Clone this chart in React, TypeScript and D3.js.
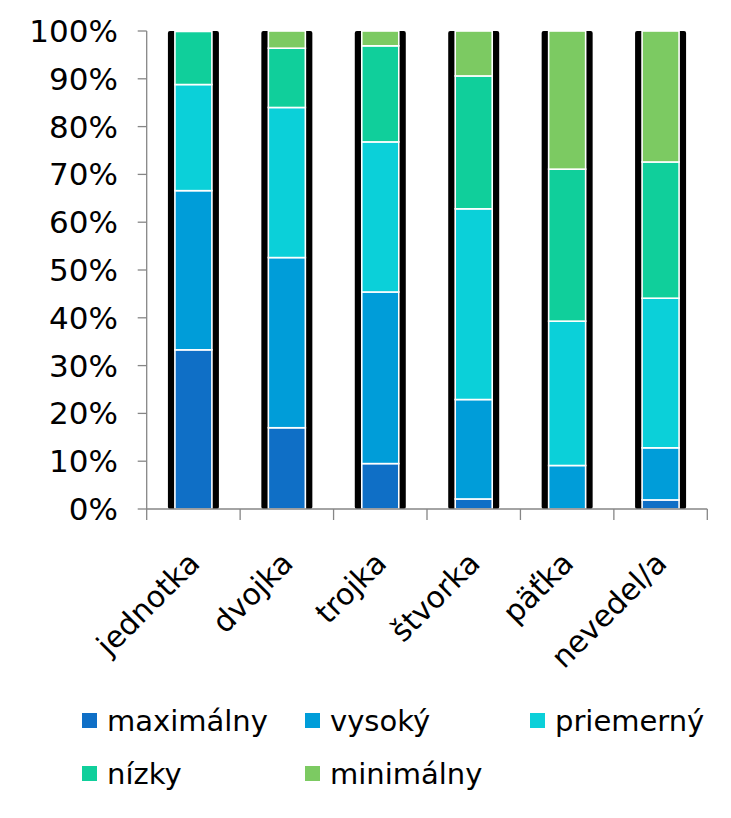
import { useMemo } from 'react';
import { scaleBand, scaleLinear, scaleOrdinal, stack } from 'd3';

const categories = ['jednotka', 'dvojka', 'trojka', 'štvorka', 'päťka', 'nevedel/a'];
const seriesNames = ['maximálny', 'vysoký', 'priemerný', 'nízky', 'minimálny'];

const maximalny = [33.3, 17.0, 9.5, 2.1, 0, 1.9];
const vysoky = [33.3, 35.6, 35.9, 20.8, 9.1, 10.9];
const priemerny = [22.2, 31.4, 31.4, 39.9, 30.2, 31.3];
const nizky = [11.1, 12.4, 20.1, 27.8, 31.8, 28.5];
const minimalny = [0, 3.6, 3.1, 9.4, 28.9, 27.4];

const yTicks = [0, 10, 20, 30, 40, 50, 60, 70, 80, 90, 100];

const colors = ['#0F6FC6', '#009DD9', '#0BD0D9', '#10CF9B', '#7CCA62'];

const W = 731,
  H = 818;
const plot = { left: 146.7, right: 707.3, top: 31, bottom: 509 };
const font = '"DejaVu Sans", sans-serif';

export default function App() {
  const rows = useMemo(
    () =>
      categories.map((c, i) => ({
        cat: c,
        maximálny: maximalny[i],
        vysoký: vysoky[i],
        priemerný: priemerny[i],
        nízky: nizky[i],
        minimálny: minimalny[i],
      })),
    []
  );

  const stacked = useMemo(() => stack<any>().keys(seriesNames)(rows), [rows]);

  const x = useMemo(
    () => scaleBand<string>().domain(categories).range([plot.left, plot.right]),
    []
  );
  const y = useMemo(
    () => scaleLinear().domain([0, 100]).range([plot.bottom, plot.top]),
    []
  );
  const color = useMemo(
    () => scaleOrdinal<string, string>().domain(seriesNames).range(colors),
    []
  );

  const bw = x.bandwidth();
  const shadowW = 51;
  const barW = 37;

  const legendPos = [
    { x: 82, y: 721 },
    { x: 305, y: 721 },
    { x: 530, y: 721 },
    { x: 82, y: 774 },
    { x: 305, y: 774 },
  ];

  return (
    <svg
      width={W}
      height={H}
      style={{ position: 'absolute', left: 0, top: 0, background: '#fff' }}
      fontFamily={font}
    >
      {/* black backing behind each bar */}
      <g className="shadows">
        {categories.map((c) => {
          const cx = (x(c) ?? 0) + bw / 2;
          return (
            <rect
              key={c}
              x={cx - shadowW / 2}
              y={y(100)}
              width={shadowW}
              height={y(0) - y(100)}
              rx={2}
              fill="#000"
            />
          );
        })}
      </g>

      <g className="bars">
        {stacked.map((s) =>
          s.map((d, i) => {
            const c = categories[i];
            const cx = (x(c) ?? 0) + bw / 2;
            const h = y(d[0]) - y(d[1]);
            if (h <= 0.01) return null;
            return (
              <rect
                key={s.key + c}
                x={cx - barW / 2}
                y={y(d[1])}
                width={barW}
                height={h}
                fill={color(s.key)}
                stroke="#fff"
                strokeWidth={1.6}
              />
            );
          })
        )}
      </g>

      {/* y axis */}
      <g className="y-axis">
        <line x1={plot.left} x2={plot.left} y1={y(0)} y2={y(100)} stroke="#868686" strokeWidth={1.3} />
        {yTicks.map((t) => (
          <g key={t}>
            <line x1={plot.left - 9} x2={plot.left} y1={y(t)} y2={y(t)} stroke="#868686" strokeWidth={1.3} />
            <text
              x={118}
              y={y(t)}
              textAnchor="end"
              dominantBaseline="central"
              fontSize={31}
              fill="#000"
            >
              {t}%
            </text>
          </g>
        ))}
      </g>

      {/* x axis */}
      <g className="x-axis">
        <line x1={plot.left} x2={plot.right} y1={y(0)} y2={y(0)} stroke="#868686" strokeWidth={1.3} />
        {[...categories.map((c) => x(c) ?? 0), plot.right].map((tx, i) => (
          <line key={i} x1={tx} x2={tx} y1={y(0)} y2={y(0) + 11} stroke="#868686" strokeWidth={1.3} />
        ))}
        {categories.map((c) => {
          const cx = (x(c) ?? 0) + bw / 2;
          const px = cx + 8;
          const py = 565;
          return (
            <text
              key={c}
              x={px}
              y={py}
              textAnchor="end"
              fontSize={30}
              fill="#000"
              transform={`rotate(-45 ${px} ${py})`}
            >
              {c}
            </text>
          );
        })}
      </g>

      {/* legend */}
      <g className="legend">
        {seriesNames.map((n, i) => (
          <g key={n} transform={`translate(${legendPos[i].x},${legendPos[i].y})`}>
            <rect x={0} y={-8} width={15} height={15} fill={color(n)} />
            <text x={25} y={0} dominantBaseline="central" fontSize={29} fill="#000">
              {n}
            </text>
          </g>
        ))}
      </g>
    </svg>
  );
}
